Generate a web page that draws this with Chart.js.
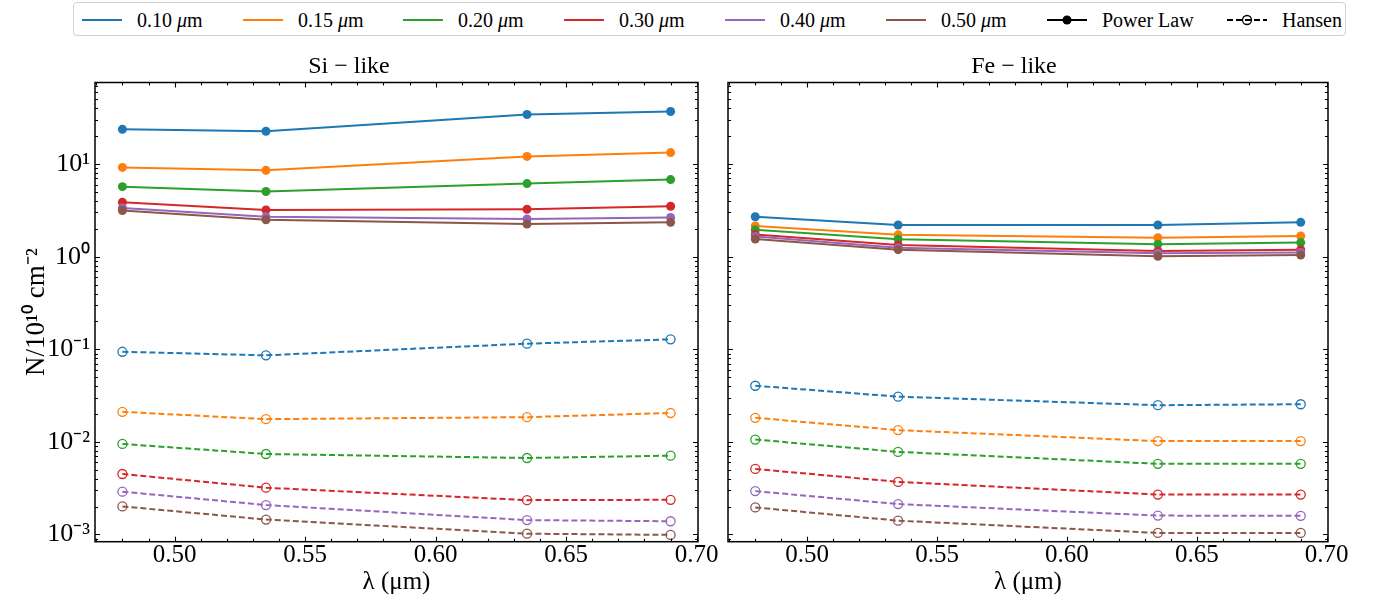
<!DOCTYPE html>
<html lang="en">
<head>
    <meta charset="UTF-8">
    <title>Si-like / Fe-like</title>
    <script src="https://cdn.jsdelivr.net/npm/chart.js"></script>
    <style>
        body {
            margin: 0;
            width: 1378px;
            height: 604px;
            background: #fff;
            font-family: 'Liberation Serif', serif;
            position: relative;
            overflow: hidden;
        }
        .legend {
            position: absolute;
            left: 73px;
            top: 2px;
            width: 1273px;
            height: 34px;
            border: 1px solid #d0d0d0;
            border-radius: 4px;
            box-sizing: border-box;
        }
        .item {
            position: absolute;
            top: 0;
            height: 34px;
            display: flex;
            align-items: center;
            font-size: 20px;
            color: #000;
            white-space: nowrap;
        }
        .item svg { margin-right: 15px; }
        canvas { position: absolute; top: 40px; }
        #left { left: 0; }
        #right { left: 700px; }
    </style>
</head>
<body>
    <div class="legend" id="legend"></div>
    <canvas id="left" width="740" height="564"></canvas>
    <canvas id="right" width="678" height="564"></canvas>

    <script>
        // wavelengths (micron)
        const wavelengths = [0.48, 0.535, 0.635, 0.69];
        const grainSizes = ['0.10', '0.15', '0.20', '0.30', '0.40', '0.50'];
        const colors = ['#1f77b4', '#ff7f0e', '#2ca02c', '#d62728', '#9467bd', '#8c564b'];

        const xTicks = [0.50, 0.55, 0.60, 0.65, 0.70];
        const yTicks = [1e-3, 1e-2, 1e-1, 1, 10];
        const yTickLabels = ['10⁻³', '10⁻²', '10⁻¹', '10⁰', '10¹'];

        // rows = grain size, columns = wavelength
        const siPowerLaw = [
            [23.7, 22.6, 34.3, 37.0],
            [9.2, 8.55, 12.1, 13.3],
            [5.7, 5.05, 6.15, 6.8],
            [3.88, 3.2, 3.25, 3.5],
            [3.35, 2.7, 2.55, 2.65],
            [3.15, 2.5, 2.25, 2.35]
        ];
        const siHansen = [
            [0.094, 0.086, 0.115, 0.128],
            [0.0211, 0.0176, 0.0185, 0.0205],
            [0.0095, 0.0074, 0.0067, 0.0071],
            [0.0045, 0.0032, 0.00235, 0.00237],
            [0.0029, 0.00208, 0.00143, 0.00139],
            [0.00201, 0.00145, 0.00102, 0.00099]
        ];
        const fePowerLaw = [
            [2.7, 2.2, 2.2, 2.35],
            [2.15, 1.72, 1.6, 1.67],
            [1.95, 1.54, 1.36, 1.42],
            [1.74, 1.34, 1.15, 1.19],
            [1.65, 1.25, 1.09, 1.11],
            [1.55, 1.19, 1.01, 1.04]
        ];
        const feHansen = [
            [0.0404, 0.0308, 0.0249, 0.0255],
            [0.0182, 0.0134, 0.0102, 0.0102],
            [0.0106, 0.0078, 0.0058, 0.0058],
            [0.0051, 0.0037, 0.0027, 0.0027],
            [0.00294, 0.00213, 0.0016, 0.00159],
            [0.00196, 0.00141, 0.00104, 0.00104]
        ];

        const SERIF = "'Liberation Serif', serif";
        Chart.defaults.font.family = SERIF;
        Chart.defaults.color = '#000';

        // legend (html)
        const legendLefts = [8, 169, 329, 490, 651, 812, 973, 1153];
        const legend = document.getElementById('legend');
        function handle(color, dashed, marker) {
            let s = '<svg width="40" height="12">';
            s += '<line x1="0" y1="6" x2="40" y2="6" stroke="' + color + '" stroke-width="2"' + (dashed ? ' stroke-dasharray="6,3"' : '') + '/>';
            if (marker === 'filled') s += '<circle cx="20" cy="6" r="4.5" fill="' + color + '"/>';
            if (marker === 'open') s += '<circle cx="20" cy="6" r="4.5" fill="none" stroke="' + color + '" stroke-width="1.3"/>';
            return s + '</svg>';
        }
        const legendItems = grainSizes.map((g, i) => [handle(colors[i], false), g + ' <i>μ</i>m']);
        legendItems.push([handle('#000', false, 'filled'), 'Power Law']);
        legendItems.push([handle('#000', true, 'open'), 'Hansen']);
        legendItems.forEach((it, i) => {
            const d = document.createElement('div');
            d.className = 'item';
            d.style.left = legendLefts[i] + 'px';
            d.innerHTML = it[0] + '<span>' + it[1] + '</span>';
            legend.appendChild(d);
        });

        // inward ticks on all sides + box
        const framePlugin = {
            id: 'frame',
            afterDatasetsDraw(chart) {
                const { ctx, chartArea: a, scales: { x, y } } = chart;
                ctx.save();
                ctx.strokeStyle = '#000';
                ctx.lineWidth = 1.1;
                ctx.beginPath();
                for (let k = 47; k <= 70; k++) {
                    const len = k % 5 === 0 ? 5 : 3;
                    const p = Math.round(x.getPixelForValue(k / 100)) + 0.5;
                    ctx.moveTo(p, a.bottom); ctx.lineTo(p, a.bottom - len);
                    ctx.moveTo(p, a.top); ctx.lineTo(p, a.top + len);
                }
                for (let e = -4; e <= 2; e++) {
                    for (let m = 1; m <= 9; m++) {
                        const v = m * Math.pow(10, e);
                        if (v < y.min || v > y.max) continue;
                        const len = m === 1 ? 5 : 3;
                        const p = Math.round(y.getPixelForValue(v)) + 0.5;
                        ctx.moveTo(a.left, p); ctx.lineTo(a.left + len, p);
                        ctx.moveTo(a.right, p); ctx.lineTo(a.right - len, p);
                    }
                }
                ctx.stroke();
                ctx.lineWidth = 1.5;
                ctx.strokeRect(a.left, a.top, a.right - a.left, a.bottom - a.top);
                ctx.restore();
            }
        };

        function makeDatasets(powerLaw, hansen) {
            const sets = [];
            grainSizes.forEach((g, i) => {
                sets.push({
                    label: g + ' μm power law',
                    data: wavelengths.map((w, j) => ({ x: w, y: powerLaw[i][j] })),
                    borderColor: colors[i],
                    backgroundColor: colors[i],
                    borderWidth: 2,
                    pointRadius: 4.5,
                    pointBorderWidth: 0,
                    pointBackgroundColor: colors[i],
                    order: 100 - i
                });
            });
            grainSizes.forEach((g, i) => {
                sets.push({
                    label: g + ' μm Hansen',
                    data: wavelengths.map((w, j) => ({ x: w, y: hansen[i][j] })),
                    borderColor: colors[i],
                    backgroundColor: 'rgba(0,0,0,0)',
                    borderWidth: 2,
                    borderDash: [6, 3],
                    pointRadius: 4.5,
                    pointBorderWidth: 1.3,
                    pointBorderColor: colors[i],
                    pointBackgroundColor: 'rgba(0,0,0,0)',
                    order: 50 - i
                });
            });
            return sets;
        }

        function makeChart(id, title, powerLaw, hansen, left) {
            return new Chart(document.getElementById(id), {
                type: 'line',
                data: { datasets: makeDatasets(powerLaw, hansen) },
                options: {
                    responsive: false,
                    animation: false,
                    layout: { padding: { left: 0, right: left ? 42 : 50, top: 0, bottom: 0 } },
                    plugins: {
                        legend: { display: false },
                        tooltip: { enabled: false },
                        title: {
                            display: true,
                            text: title,
                            font: { family: SERIF, size: 24, weight: 'normal', lineHeight: 1.2 },
                            padding: { top: 12.6, bottom: 1.1 }
                        }
                    },
                    scales: {
                        x: {
                            type: 'linear',
                            min: 0.4695,
                            max: 0.7005,
                            grid: { display: false, drawTicks: false },
                            border: { display: false },
                            afterBuildTicks(s) { s.ticks = xTicks.map(v => ({ value: v })); },
                            afterFit(s) { s.height = 62.3; s.paddingLeft = 0; s.paddingRight = 0; },
                            ticks: {
                                padding: 0,
                                maxRotation: 0,
                                color: '#000',
                                font: { family: SERIF, size: 25, lineHeight: 1.1 },
                                callback: v => v.toFixed(2)
                            },
                            title: {
                                display: true,
                                text: 'λ (μm)',
                                color: '#000',
                                font: { family: SERIF, size: 25, lineHeight: 1.1 },
                                padding: { top: 0, bottom: 8 }
                            }
                        },
                        y: {
                            type: 'logarithmic',
                            min: 8.36e-4,
                            max: 76,
                            grid: { display: false, drawTicks: false },
                            border: { display: false },
                            afterBuildTicks(s) { s.ticks = yTicks.map(v => ({ value: v })); },
                            afterFit(s) { s.width = left ? 95 : 28; s.paddingTop = 0; s.paddingBottom = 0; },
                            ticks: {
                                display: left,
                                padding: 5,
                                color: '#000',
                                font: { family: SERIF, size: 26 },
                                callback: v => yTickLabels[yTicks.indexOf(v)]
                            },
                            title: {
                                display: left,
                                text: 'N/10¹⁰ cm⁻²',
                                color: '#000',
                                font: { family: SERIF, size: 27, lineHeight: 1.1 },
                                padding: { top: 22, bottom: 0 }
                            }
                        }
                    }
                },
                plugins: [framePlugin]
            });
        }

        makeChart('left', 'Si − like', siPowerLaw, siHansen, true);
        makeChart('right', 'Fe − like', fePowerLaw, feHansen, false);
    </script>
</body>
</html>
